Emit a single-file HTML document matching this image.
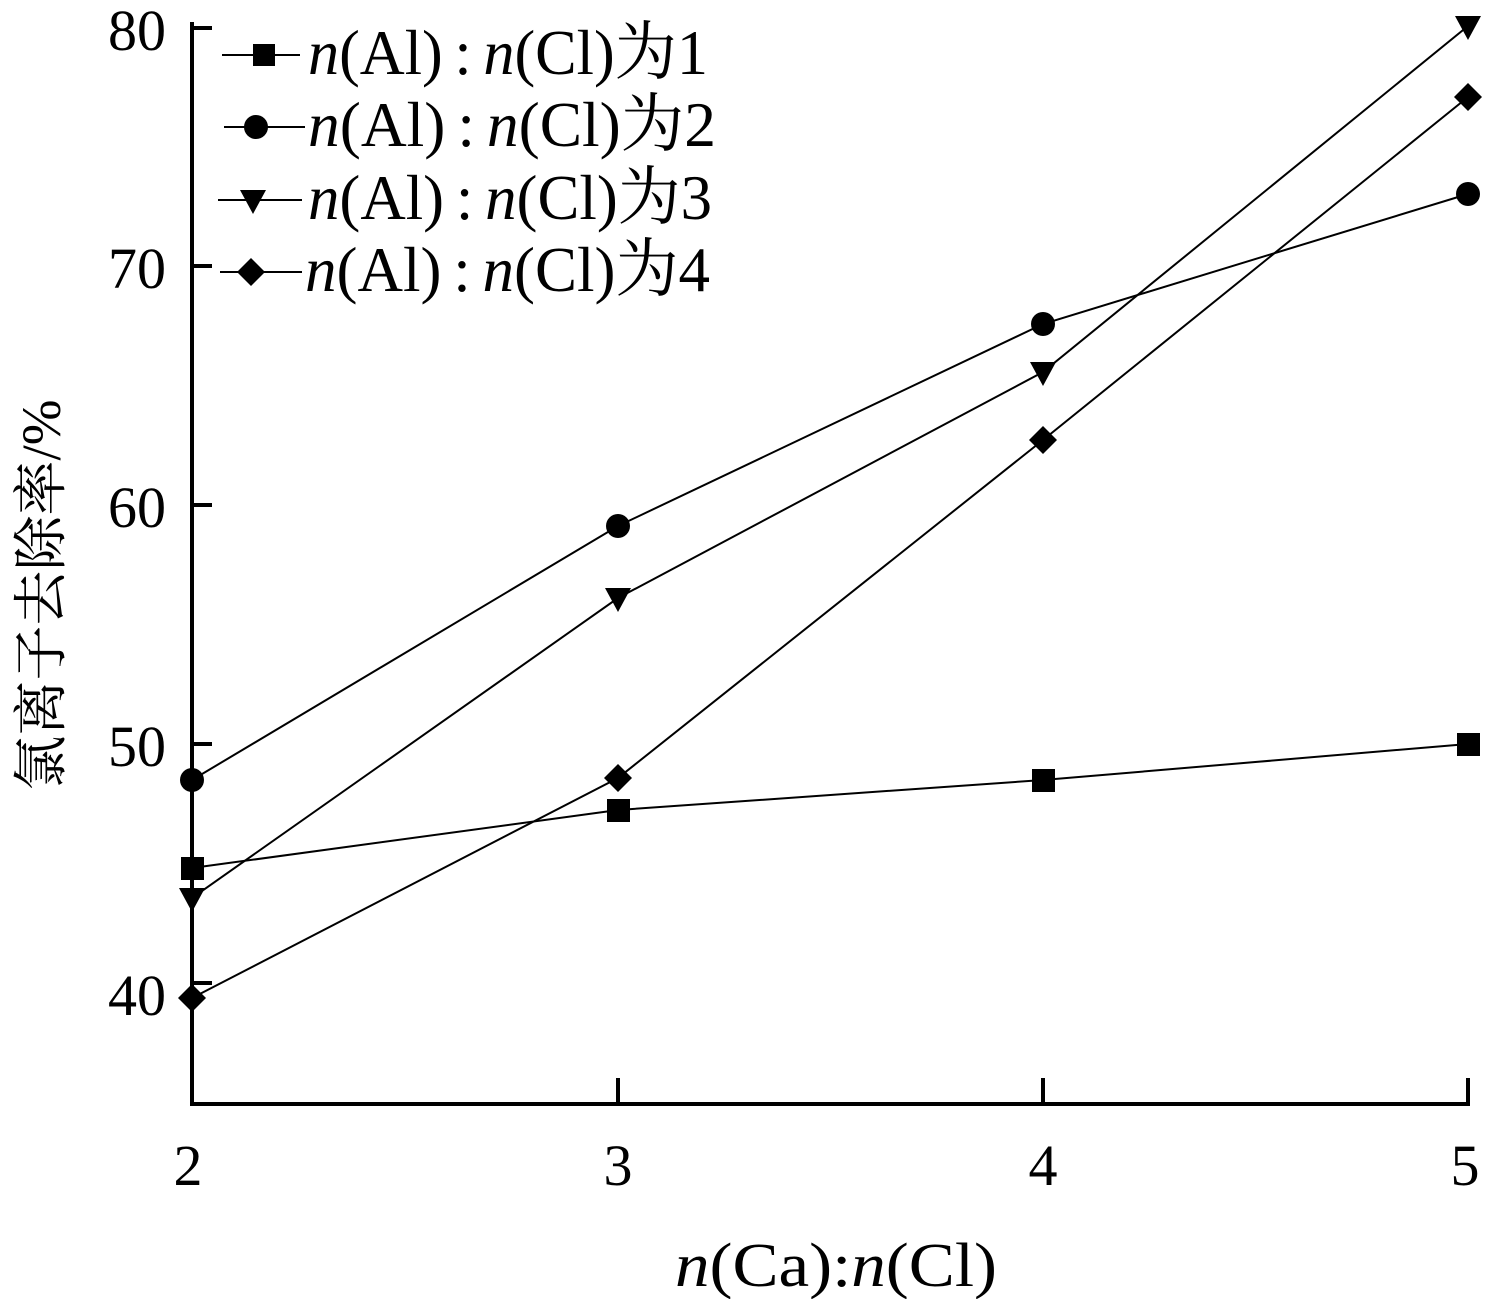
<!DOCTYPE html>
<html><head><meta charset="utf-8"><style>
body{margin:0;background:#fff}
svg{display:block}
text{font-family:"Liberation Serif","Noto Serif CJK SC",serif;fill:#000}
</style></head><body>
<svg width="1512" height="1299" viewBox="0 0 1512 1299">
<g stroke="#000" stroke-width="4" fill="none">
<path d="M192 22 V1104 H1470"/>
<path d="M190 28 H212 M190 266 H212 M190 505 H212 M190 744 H212 M190 983 H212"/>
<path d="M618 1104 V1078 M1043 1104 V1078 M1468 1104 V1078"/>
</g>
<g font-size="58" text-anchor="end">
<text x="166" y="50">80</text><text x="166" y="288">70</text><text x="166" y="527">60</text><text x="166" y="766">50</text><text x="166" y="1015">40</text>
</g>
<g font-size="58" text-anchor="middle">
<text x="188" y="1185">2</text><text x="618" y="1185">3</text><text x="1043" y="1185">4</text><text x="1465" y="1185">5</text>
</g>
<text x="675" y="1286" font-size="62" textLength="322" lengthAdjust="spacingAndGlyphs"><tspan font-style="italic">n</tspan>(Ca):<tspan font-style="italic">n</tspan>(Cl)</text>
<text transform="translate(60,595) rotate(-90)" font-size="55" text-anchor="middle">氯离子去除率/%</text>
<g stroke="#000" stroke-width="2" fill="none">
<polyline points="192,868 618,810 1043,780 1468,744"/>
<polyline points="192,780 618,526 1043,324 1468,194"/>
<polyline points="192,898 618,598 1043,372 1468,26"/>
<polyline points="192,998 618,778 1043,440 1468,97"/>
<path d="M222 55 H300 M224 127 H305 M218 200 H302 M220 272 H302"/>
</g>
<g fill="#000">
<rect x="181" y="857" width="23" height="23"/><rect x="607" y="799" width="23" height="23"/><rect x="1032" y="769" width="23" height="23"/><rect x="1457" y="733" width="23" height="23"/><rect x="253" y="44" width="22" height="22"/>
<circle cx="192" cy="780" r="12"/><circle cx="618" cy="526" r="12"/><circle cx="1043" cy="324" r="12"/><circle cx="1468" cy="194" r="12"/><circle cx="256" cy="127" r="12"/>
<path d="M179 888 h26 l-13 24z M605 588 h26 l-13 24z M1030 362 h26 l-13 24z M1455 16 h26 l-13 24z M240 190 h26 l-13 24z"/>
<path d="M192 984 l14 14 -14 14 -14 -14z M618 764 l14 14 -14 14 -14 -14z M1043 426 l14 14 -14 14 -14 -14z M1468 83 l14 14 -14 14 -14 -14z M251 258 l14 14 -14 14 -14 -14z"/>
</g>
<g font-size="64">
<text x="308" y="74" textLength="400" lengthAdjust="spacingAndGlyphs"><tspan font-style="italic">n</tspan>(Al)<tspan dx="12">:</tspan><tspan dx="12" font-style="italic">n</tspan>(Cl)为1</text>
<text x="308" y="146" textLength="408" lengthAdjust="spacingAndGlyphs"><tspan font-style="italic">n</tspan>(Al)<tspan dx="12">:</tspan><tspan dx="12" font-style="italic">n</tspan>(Cl)为2</text>
<text x="308" y="219" textLength="404" lengthAdjust="spacingAndGlyphs"><tspan font-style="italic">n</tspan>(Al)<tspan dx="12">:</tspan><tspan dx="12" font-style="italic">n</tspan>(Cl)为3</text>
<text x="305" y="291" textLength="405" lengthAdjust="spacingAndGlyphs"><tspan font-style="italic">n</tspan>(Al)<tspan dx="12">:</tspan><tspan dx="12" font-style="italic">n</tspan>(Cl)为4</text>
</g>
</svg>
</body></html>
